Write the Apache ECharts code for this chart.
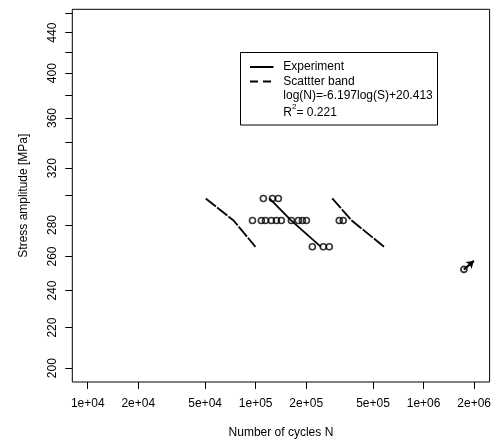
<!DOCTYPE html>
<html><head><meta charset="utf-8">
<script src="https://cdn.jsdelivr.net/npm/echarts@6/dist/echarts.min.js"></script>
<style>html,body{margin:0;padding:0;background:#fff}#c{width:494px;height:444px}</style>
</head><body><div id="c"></div>
<script>
// ---- data ----
const xTicks = [1e4, 2e4, 5e4, 1e5, 2e5, 5e5, 1e6, 2e6];
const xTickLabels = ['1e+04', '2e+04', '5e+04', '1e+05', '2e+05', '5e+05', '1e+06', '2e+06'];
const yTicks = [200, 220, 240, 260, 280, 300, 320, 340, 360, 380, 400, 420, 440, 460];
const yTickLabels = [200, 220, 240, 260, 280, 320, 360, 400, 440];
const xRange = [8091, 2472000];
const yRange = [193.6, 464.8];

// failures (open circles)
const failN = [111100, 125800, 136500,
  95700, 108100, 114300, 124100, 132900, 142200, 163200, 179600, 189800, 200400, 314600, 332100,
  217500, 252700, 274400];
const failS = [298, 298, 298,
  283, 283, 283, 283, 283, 283, 283, 283, 283, 283, 283, 283,
  266, 266, 266];
// run-out (circle + arrow)
const runoutN = [1738000];
const runoutS = [252.2];
const arrowTipN = 1991000;
const arrowTipS = 257.3;

// curves
const curveS = [298, 283, 266];
const meanN = [120800, 162500, 244900];
const lowerBandN = [50400, 73800, 99700];
const upperBandN = [285800, 373000, 582000];

// ---- build ----
const L = Math.log10;
const pts = (ns, ss) => ns.map((n, i) => [L(n), L(ss[i])]);
const near = (a, b) => Math.abs(a - b) < 1e-6;
const FONT = 'Liberation Sans, Arial, sans-serif';

const chart = echarts.init(document.getElementById('c'), null, {renderer: 'canvas'});
chart.setOption({
  animation: false,
  backgroundColor: '#fff',
  grid: {left: 72.3, right: 3.3, top: 9.3, bottom: 60.7, show: true, borderColor: '#000', borderWidth: 1, backgroundColor: 'transparent'},
  xAxis: {
    type: 'value', min: L(xRange[0]), max: L(xRange[1]),
    axisLine: {show: false}, splitLine: {show: false},
    axisTick: {show: true, customValues: xTicks.map(L), length: 7, lineStyle: {color: '#000', width: 1}},
    axisLabel: {customValues: xTicks.map(L), margin: 16, color: '#000', fontSize: 12, fontFamily: FONT,
      formatter: v => { const i = xTicks.findIndex(t => near(L(t), v)); return i >= 0 ? xTickLabels[i] : ''; }},
    name: 'Number of cycles N', nameLocation: 'middle', nameGap: 45,
    nameTextStyle: {color: '#000', fontSize: 12, fontFamily: FONT}
  },
  yAxis: {
    type: 'value', min: L(yRange[0]), max: L(yRange[1]),
    axisLine: {show: false}, splitLine: {show: false},
    axisTick: {show: true, customValues: yTicks.map(L), length: 7, lineStyle: {color: '#000', width: 1}},
    axisLabel: {customValues: yTickLabels.map(L), rotate: 90, margin: 14, color: '#000', fontSize: 12, fontFamily: FONT,
      formatter: v => { const i = yTickLabels.findIndex(t => near(L(t), v)); return i >= 0 ? String(yTickLabels[i]) : ''; }},
    name: 'Stress amplitude [MPa]', nameLocation: 'middle', nameGap: 43,
    nameTextStyle: {color: '#000', fontSize: 12, fontFamily: FONT}
  },
  series: [
    {type: 'line', data: pts(meanN, curveS), symbol: 'none', lineStyle: {color: '#000', width: 1.8}, z: 3},
    {type: 'line', data: pts(lowerBandN, curveS), symbol: 'none', lineStyle: {color: '#000', width: 1.8, type: [13, 1.5]}, z: 3},
    {type: 'line', data: pts(upperBandN, curveS), symbol: 'none', lineStyle: {color: '#000', width: 1.8, type: [13, 1.5]}, z: 3},
    {type: 'scatter', data: pts(failN, failS), symbol: 'circle', symbolSize: 6,
      itemStyle: {color: 'rgba(255,255,255,0)', borderColor: '#000', borderWidth: 1.6}, z: 4},
    {type: 'scatter', data: pts(runoutN, runoutS), symbol: 'circle', symbolSize: 6,
      itemStyle: {color: 'rgba(255,255,255,0)', borderColor: '#000', borderWidth: 1.8}, z: 4},
    {type: 'lines', coordinateSystem: 'cartesian2d', symbol: ['none', 'arrow'], symbolSize: 7,
      lineStyle: {color: '#000', width: 2.2, opacity: 1},
      data: [{coords: [[L(runoutN[0]), L(runoutS[0])], [L(arrowTipN), L(arrowTipS)]]}], z: 4}
  ],
  graphic: [
    {type: 'rect', z: 10, shape: {x: 240.5, y: 52.5, width: 197, height: 72.5},
      style: {fill: '#fff', stroke: '#000', lineWidth: 1}},
    {type: 'line', z: 11, shape: {x1: 250, y1: 67, x2: 273.5, y2: 67}, style: {stroke: '#000', lineWidth: 2}},
    {type: 'line', z: 11, shape: {x1: 250, y1: 81.5, x2: 273.5, y2: 81.5}, style: {stroke: '#000', lineWidth: 2, lineDash: [8, 5]}},
    {type: 'text', z: 11, x: 283.3, y: 67, style: {text: 'Experiment', fill: '#000', fontSize: 12, fontFamily: FONT, verticalAlign: 'middle'}},
    {type: 'text', z: 11, x: 283.3, y: 81.7, style: {text: 'Scattter band', fill: '#000', fontSize: 12, fontFamily: FONT, verticalAlign: 'middle'}},
    {type: 'text', z: 11, x: 283.3, y: 96, style: {text: 'log(N)=-6.197log(S)+20.413', fill: '#000', fontSize: 12, fontFamily: FONT, verticalAlign: 'middle'}},
    {type: 'text', z: 11, x: 283.3, y: 112.7, style: {text: 'R', fill: '#000', fontSize: 12, fontFamily: FONT, verticalAlign: 'middle'}},
    {type: 'text', z: 11, x: 292, y: 106.5, style: {text: '2', fill: '#000', fontSize: 8, fontFamily: FONT, verticalAlign: 'middle'}},
    {type: 'text', z: 11, x: 296.5, y: 112.7, style: {text: '= 0.221', fill: '#000', fontSize: 12, fontFamily: FONT, verticalAlign: 'middle'}}
  ]
});
</script></body></html>
